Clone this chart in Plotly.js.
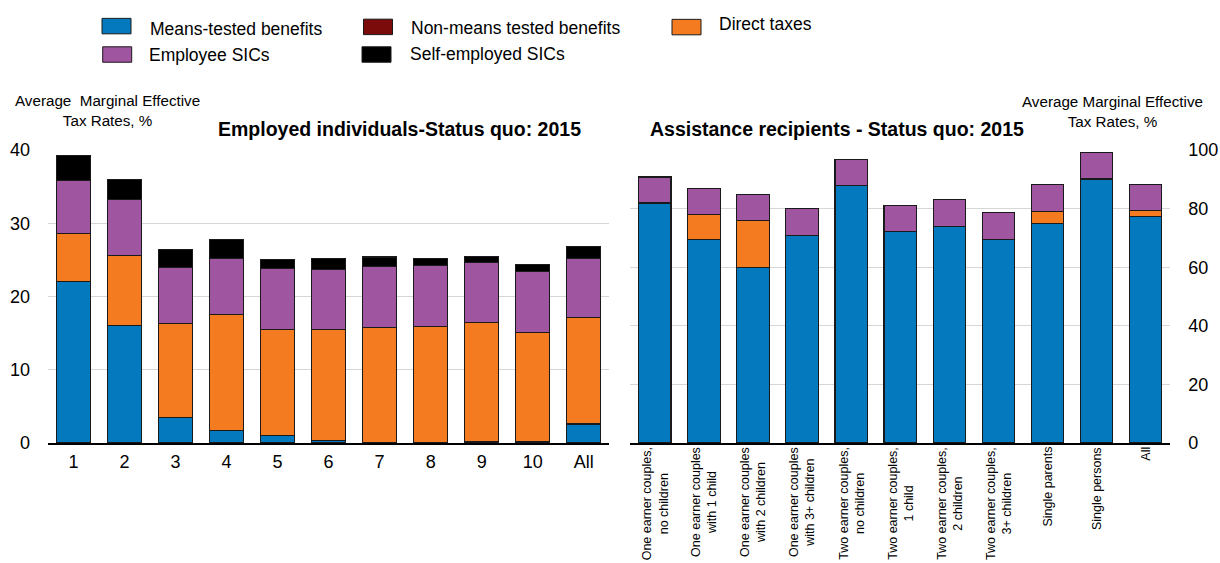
<!DOCTYPE html>
<html>
<head>
<meta charset="utf-8">
<script src="https://cdn.plot.ly/plotly-3.0.1.min.js"></script>
<style>
  html, body { margin: 0; padding: 0; background: #fff; }
  #chart { width: 1220px; height: 563px; }
</style>
</head>
<body>
<div id="chart"></div>
<script>
// ---------- Data ----------
const seriesNames = ["Means-tested benefits", "Non-means tested benefits", "Direct taxes", "Employee SICs", "Self-employed SICs"];
const seriesColors = ["#0479be", "#7b0a0a", "#f47b20", "#a055a0", "#000000"];

// Left panel: employed individuals by decile
const decilesL = ["1", "2", "3", "4", "5", "6", "7", "8", "9", "10", "All"];
const meansL    = [22.0, 16.0, 3.5, 1.7, 1.0, 0.35, 0.05, 0.05, 0, 0, 2.6];
const nonMeansL = [0, 0, 0, 0, 0, 0, 0, 0, 0.2, 0.2, 0];
const taxL      = [6.6, 9.55, 12.8, 15.8, 14.5, 15.2, 15.75, 15.85, 16.2, 14.9, 14.5];
const empL      = [7.2, 7.65, 7.6, 7.7, 8.3, 8.15, 8.25, 8.3, 8.3, 8.35, 8.1];
const selfL     = [3.4, 2.8, 2.5, 2.6, 1.3, 1.5, 1.35, 1.0, 0.8, 0.9, 1.6];

// Right panel: assistance recipients by household type
const groupsR = [
  "One earner couples,<br>no children",
  "One earner couples<br>with 1 child",
  "One earner couples<br>with 2 children",
  "One earner couples<br>with 3+ children",
  "Two earner couples,<br>no children",
  "Two earner couples,<br>1 child",
  "Two earner couples,<br>2 children",
  "Two earner couples,<br>3+ children",
  "Single parents",
  "Single persons",
  "All"
];
const meansR    = [81.6, 69.5, 60.0, 70.7, 87.9, 72.1, 74.0, 69.6, 74.9, 90.1, 77.4];
const nonMeansR = [0.3, 0, 0, 0, 0, 0, 0, 0, 0, 0, 0];
const taxR      = [0, 8.4, 15.8, 0, 0, 0, 0, 0, 4.1, 0, 1.9];
const empR      = [8.9, 9.0, 9.1, 9.2, 9.0, 9.1, 9.1, 9.1, 9.2, 8.9, 9.0];
const selfR     = [0, 0, 0, 0, 0, 0, 0, 0, 0, 0, 0];

const titleL = "Employed individuals-Status quo: 2015";
const titleR = "Assistance recipients - Status quo: 2015";
const yTitle = "Average  Marginal Effective<br>Tax Rates, %";
const yTitleR = "Average Marginal Effective<br>Tax Rates, %";

// ---------- Build ----------
const FONT = "Liberation Sans, Arial, Helvetica, sans-serif";
const W = 1220, PLOT_TOP = 149.5, PLOT_BOT = 443.3;
const PH = PLOT_BOT - PLOT_TOP;
const py = p => (PLOT_BOT - p) / PH;   // pixel y -> paper y
const px = p => p / W;                 // pixel x -> paper x

const left = [meansL, nonMeansL, taxL, empL, selfL];
const right = [meansR, nonMeansR, taxR, empR, selfR];

const traces = [];
left.forEach((vals, i) => {
  traces.push({
    type: "bar", x: decilesL, y: vals, name: seriesNames[i],
    xaxis: "x", yaxis: "y", showlegend: false,
    marker: { color: seriesColors[i], line: { color: "#1a1a1a", width: 1.1 } },
    hoverinfo: "skip"
  });
});
right.forEach((vals, i) => {
  traces.push({
    type: "bar", x: groupsR, y: vals, name: seriesNames[i],
    xaxis: "x2", yaxis: "y2", showlegend: false,
    marker: { color: seriesColors[i], line: { color: "#1a1a1a", width: 1.1 } },
    hoverinfo: "skip"
  });
});

const annotations = [];
const shapes = [];

// Panel titles
annotations.push({ text: "<b>" + titleL + "</b>", xref: "paper", yref: "paper", x: px(399), y: py(128), xanchor: "center", yanchor: "middle", showarrow: false, font: { family: FONT, size: 19.5, color: "#000" } });
annotations.push({ text: "<b>" + titleR + "</b>", xref: "paper", yref: "paper", x: px(837), y: py(128), xanchor: "center", yanchor: "middle", showarrow: false, font: { family: FONT, size: 19.5, color: "#000" } });

// Axis titles
annotations.push({ text: yTitle, xref: "paper", yref: "paper", x: px(107), y: py(110), xanchor: "center", yanchor: "middle", showarrow: false, align: "center", font: { family: FONT, size: 15.2, color: "#000" } });
annotations.push({ text: yTitleR, xref: "paper", yref: "paper", x: px(1112), y: py(111), xanchor: "center", yanchor: "middle", showarrow: false, align: "center", font: { family: FONT, size: 15.2, color: "#000" } });

// Rotated category labels for right panel
groupsR.forEach(g => {
  annotations.push({ text: g, xref: "x2", yref: "paper", x: g, y: 0, xanchor: "center", yanchor: "top", yshift: -2, textangle: -90, showarrow: false, align: "center", font: { family: FONT, size: 12.5, color: "#000" } });
});

// Custom legend
const legendItems = [
  { s: 0, bx: 102, by: 17.5, tx: 148.3, ty: 28 },
  { s: 1, bx: 363.5, by: 18.3, tx: 409.4, ty: 27 },
  { s: 2, bx: 672, by: 18.5, tx: 716.7, ty: 23.5 },
  { s: 3, bx: 102.7, by: 46, tx: 146.7, ty: 54 },
  { s: 4, bx: 362, by: 46, tx: 408.2, ty: 53.5 }
];
legendItems.forEach(it => {
  shapes.push({ type: "rect", xref: "paper", yref: "paper", x0: px(it.bx), x1: px(it.bx + 29), y0: py(it.by), y1: py(it.by + 15.5), fillcolor: seriesColors[it.s], line: { color: "#1a1a1a", width: 1 } });
  annotations.push({ text: seriesNames[it.s], xref: "paper", yref: "paper", x: px(it.tx), y: py(it.ty), xanchor: "left", yanchor: "middle", showarrow: false, font: { family: FONT, size: 17.5, color: "#000" } });
});

const layout = {
  width: 1220, height: 563,
  margin: { l: 0, r: 0, t: PLOT_TOP, b: 563 - PLOT_BOT, pad: 0 },
  paper_bgcolor: "#fff", plot_bgcolor: "#fff",
  barmode: "stack", bargap: 0.34,
  showlegend: false,
  font: { family: FONT, size: 18, color: "#000" },
  xaxis: {
    domain: [px(48), px(609.2)], anchor: "y", type: "category",
    showline: true, linecolor: "#000", linewidth: 2, ticks: "",
    ticklabelstandoff: 1,
    tickfont: { family: FONT, size: 18, color: "#000" },
    showgrid: false, zeroline: false, automargin: false, fixedrange: true
  },
  yaxis: {
    domain: [0, 1], anchor: "x", range: [0, 40], tickvals: [0, 10, 20, 30, 40],
    showgrid: true, gridcolor: "#d6d6d6", gridwidth: 1.3,
    showline: false, zeroline: false, ticks: "",
    ticklabelstandoff: 17,
    tickfont: { family: FONT, size: 18, color: "#000" }, automargin: false, fixedrange: true
  },
  xaxis2: {
    domain: [px(630.3), px(1170.2)], anchor: "y2", type: "category",
    showline: true, linecolor: "#000", linewidth: 2, ticks: "",
    showticklabels: false, showgrid: false, zeroline: false, automargin: false, fixedrange: true
  },
  yaxis2: {
    domain: [0, 1], anchor: "x2", side: "right", range: [0, 100], tickvals: [0, 20, 40, 60, 80, 100],
    showgrid: true, gridcolor: "#d6d6d6", gridwidth: 1.3,
    showline: false, zeroline: false, ticks: "",
    ticklabelstandoff: 17,
    tickfont: { family: FONT, size: 18, color: "#000" }, automargin: false, fixedrange: true
  },
  annotations: annotations,
  shapes: shapes
};

Plotly.newPlot("chart", traces, layout, { staticPlot: true, displayModeBar: false });
</script>
</body>
</html>
